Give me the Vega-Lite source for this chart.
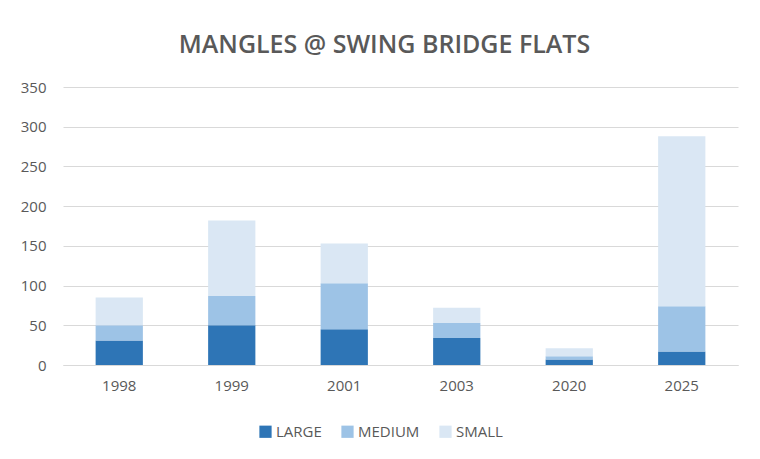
{
  "$schema": "https://vega.github.io/schema/vega-lite/v6.json",
  "width": 675,
  "height": 278,
  "autosize": {"type": "none"},
  "padding": {"left": 63, "top": 87, "right": 22, "bottom": 94},
  "background": "white",
  "title": {
    "text": "MANGLES @ SWING BRIDGE FLATS",
    "font": "Open Sans",
    "fontSize": 25,
    "fontWeight": 600,
    "color": "#595959",
    "anchor": "middle",
    "dx": -16,
    "offset": 22
  },
  "data": {
    "values": [
      {"year": "1998", "size": "LARGE", "count": 31, "ord": 1},
      {"year": "1998", "size": "MEDIUM", "count": 19, "ord": 2},
      {"year": "1998", "size": "SMALL", "count": 35, "ord": 3},
      {"year": "1999", "size": "LARGE", "count": 50, "ord": 1},
      {"year": "1999", "size": "MEDIUM", "count": 37, "ord": 2},
      {"year": "1999", "size": "SMALL", "count": 95, "ord": 3},
      {"year": "2001", "size": "LARGE", "count": 45, "ord": 1},
      {"year": "2001", "size": "MEDIUM", "count": 58, "ord": 2},
      {"year": "2001", "size": "SMALL", "count": 50, "ord": 3},
      {"year": "2003", "size": "LARGE", "count": 34, "ord": 1},
      {"year": "2003", "size": "MEDIUM", "count": 19, "ord": 2},
      {"year": "2003", "size": "SMALL", "count": 19, "ord": 3},
      {"year": "2020", "size": "LARGE", "count": 7, "ord": 1},
      {"year": "2020", "size": "MEDIUM", "count": 4, "ord": 2},
      {"year": "2020", "size": "SMALL", "count": 10, "ord": 3},
      {"year": "2025", "size": "LARGE", "count": 17, "ord": 1},
      {"year": "2025", "size": "MEDIUM", "count": 57, "ord": 2},
      {"year": "2025", "size": "SMALL", "count": 214, "ord": 3}
    ]
  },
  "mark": {"type": "bar"},
  "encoding": {
    "x": {
      "field": "year",
      "type": "ordinal",
      "scale": {"paddingInner": 0.58, "paddingOuter": 0.29},
      "axis": {
        "title": null,
        "labelAngle": 0,
        "ticks": false,
        "domainColor": "#d9d9d9",
        "labelColor": "#595959",
        "labelFont": "Open Sans",
        "labelFontSize": 15,
        "labelPadding": 13
      }
    },
    "y": {
      "field": "count",
      "type": "quantitative",
      "stack": "zero",
      "scale": {"domain": [0, 350]},
      "axis": {
        "title": null,
        "values": [0, 50, 100, 150, 200, 250, 300, 350],
        "domain": false,
        "ticks": false,
        "gridColor": "#d9d9d9",
        "labelColor": "#595959",
        "labelFont": "Open Sans",
        "labelFontSize": 15,
        "labelPadding": 17
      }
    },
    "color": {
      "field": "size",
      "type": "nominal",
      "scale": {"domain": ["LARGE", "MEDIUM", "SMALL"], "range": ["#2e75b6", "#9dc3e6", "#dae7f4"]},
      "legend": {
        "title": null,
        "orient": "none",
        "legendX": 195,
        "legendY": 337,
        "direction": "horizontal",
        "symbolType": "square",
        "symbolSize": 150,
        "symbolStrokeWidth": 0,
        "labelFont": "Open Sans",
        "labelFontSize": 15,
        "labelColor": "#595959",
        "columnPadding": 18,
        "labelOffset": 3
      }
    },
    "order": {"field": "ord", "type": "quantitative"}
  },
  "config": {"view": {"stroke": null}}
}
